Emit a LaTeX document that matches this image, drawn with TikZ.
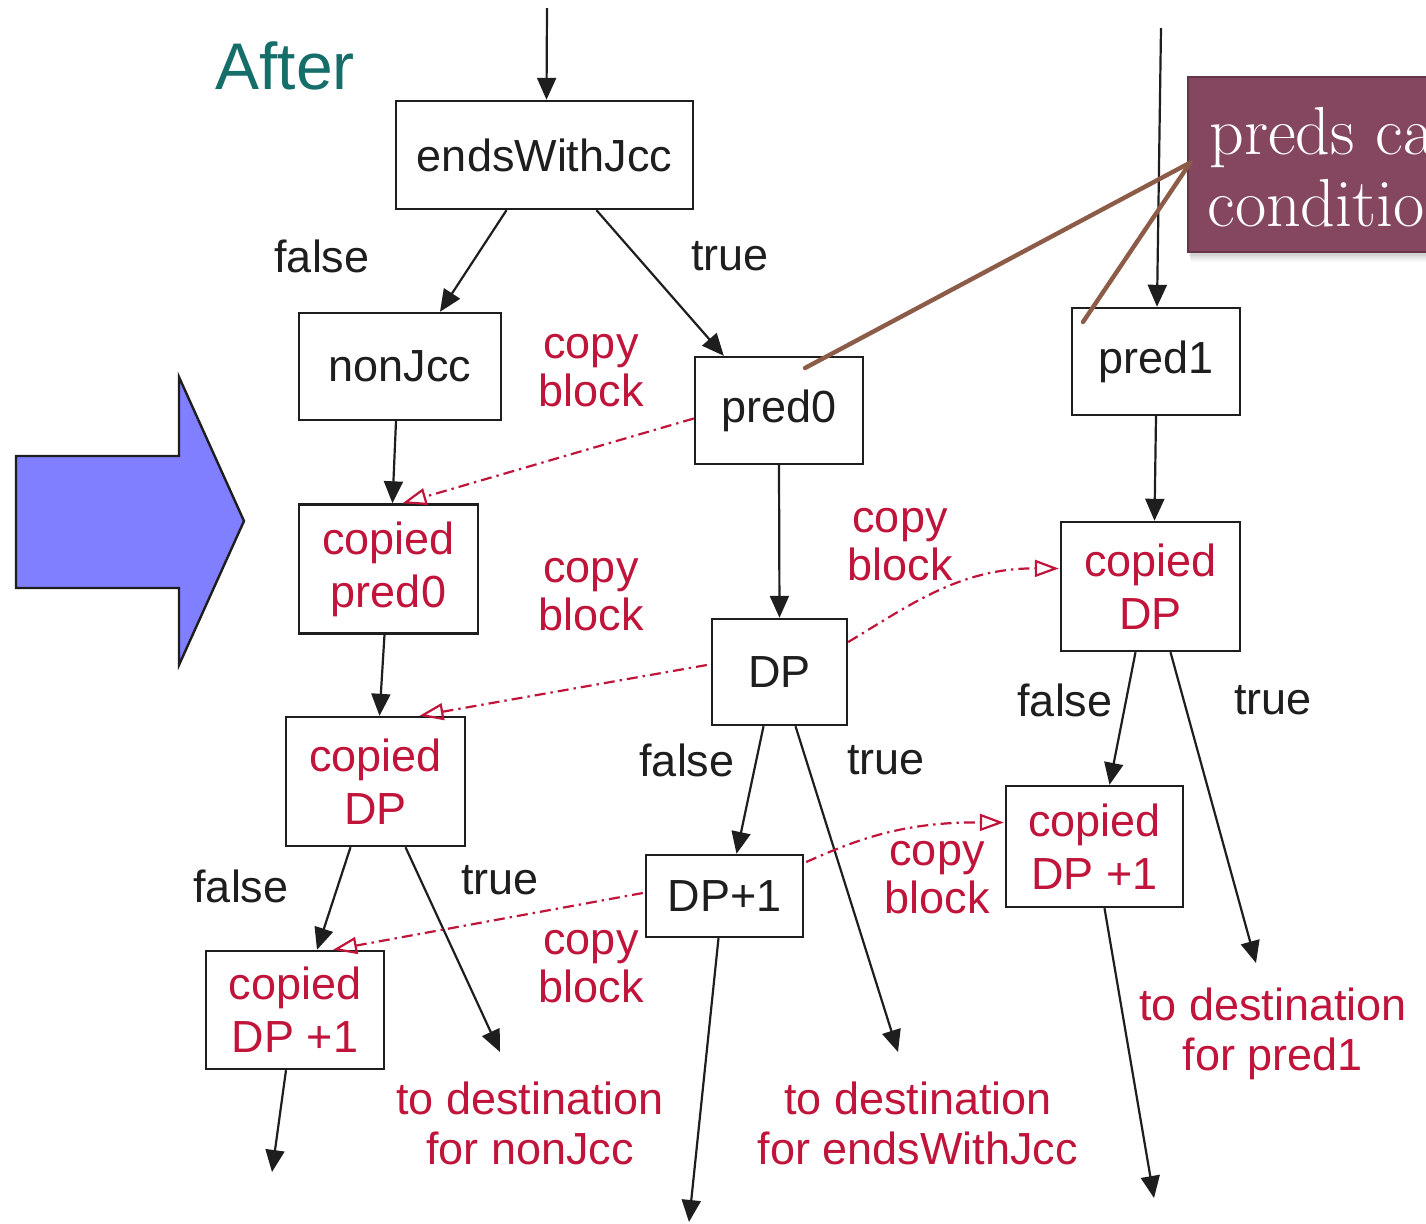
\documentclass[tikz,border=0pt]{standalone}
\usepackage{fontspec}
\newfontfamily\hv{Liberation Sans}
\usetikzlibrary{calc,arrows.meta}

\definecolor{cred}{RGB}{192,20,58}
\definecolor{cteal}{RGB}{22,110,106}
\definecolor{cblue}{RGB}{127,127,255}
\definecolor{cplum}{RGB}{132,71,95}
\definecolor{cbrown}{RGB}{140,92,72}
\definecolor{cink}{RGB}{30,30,30}

\tikzset{
  blk/.style={draw=cink,line width=1.2pt,inner sep=0pt,font=\hv\fontsize{22.5}{26.5}\selectfont,text=cink,align=center},
  cpy/.style={blk,text=cred},
  arr/.style={draw=cink,line width=1.1pt,-{Triangle[length=11pt,width=9.5pt]}},
  cparr/.style={draw=cred,line width=1.1pt,dash pattern=on 5.5pt off 2.5pt on 1.2pt off 2.5pt,
    -{Triangle[open,length=12pt,width=8.5pt,line width=1.1pt]}},
  lbl/.style={font=\hv\fontsize{22.5}{25}\selectfont,text=cink,inner sep=0pt},
  rlbl/.style={font=\hv\fontsize{22.5}{24}\selectfont,text=cred,inner sep=0pt,align=center},
  lead/.style={draw=cbrown,line width=2.2pt,line cap=round}
}

\begin{document}
\begin{tikzpicture}[x=0.5pt,y=-0.5pt]
\clip (0,0) rectangle (1426,1223);
\fill[white] (0,0) rectangle (1426,1223);

% title
\node[font=\hv\fontsize{33}{36}\selectfont,text=cteal,inner sep=0pt] (title) at (285,66) {After};

% big block arrow
\draw[fill=cblue,draw=cink,line width=1.2pt,line join=miter]
  (16,456) -- (179,456) -- (179,377) -- (244,521) -- (179,665) -- (179,588) -- (16,588) -- cycle;

% blocks
\node[blk,minimum width=148.5pt,minimum height=54pt] (ewj) at (544.5,155) {endsWithJcc};
\node[blk,minimum width=101pt,minimum height=53.5pt] (nonjcc) at (400,366.5) {nonJcc};
\node[blk,minimum width=84pt,minimum height=53.5pt] (pred0) at (779,410.5) {pred0};
\node[blk,minimum width=84pt,minimum height=53.5pt] (pred1) at (1156,361.5) {pred1};
\node[cpy,minimum width=89.5pt,minimum height=64.5pt] (cpred0) at (388.5,569) {copied\\pred0};
\node[blk,minimum width=67.5pt,minimum height=53pt] (dp) at (779.5,672) {DP};
\node[cpy,minimum width=89.5pt,minimum height=64.5pt] (cdpR) at (1150.5,586.5) {copied\\DP};
\node[cpy,minimum width=89.5pt,minimum height=64.5pt] (cdpL) at (375.5,781.5) {copied\\DP};
\node[blk,minimum width=78.5pt,minimum height=41pt] (dp1) at (724.5,896) {DP+1};
\node[cpy,minimum width=88.5pt,minimum height=60.5pt] (cdp1R) at (1094.5,846.5) {copied\\DP +1};
\node[cpy,minimum width=89pt,minimum height=59pt] (cdp1L) at (295,1010) {copied\\DP +1};

% free ends
\coordinate (inA) at (547,8);
\coordinate (inB) at (1161,28);
\coordinate (outL) at (500,1052);
\coordinate (outC) at (898,1052);
\coordinate (outR) at (1256,963);
\coordinate (downL) at (272,1172);
\coordinate (downC) at (689,1222);
\coordinate (downR) at (1154,1198);

% control-flow edges
\draw[arr] (inA) -- ($(ewj.north)+(2,0)$);
\draw[arr] (inB) -- ($(pred1.north)+(1,0)$);
\draw[arr] ($(ewj.south)+(-38,0)$) -- ($(nonjcc.north)+(40,0)$);
\draw[arr] ($(ewj.south)+(52,0)$) -- ($(pred0.north west)+(30,0)$);
\draw[arr] ($(nonjcc.south)+(-4,0)$) -- ($(cpred0.north)+(4,0)$);
\draw[arr] ($(cpred0.south)+(-4,0)$) -- ($(cdpL.north)+(4,0)$);
\draw[arr] (pred0.south) -- (dp.north);
\draw[arr] (pred1.south) -- ($(cdpR.north)+(4,0)$);
\draw[arr] ($(dp.south)+(-16,0)$) -- ($(dp1.north)+(12,0)$);
\draw[arr] ($(dp.south)+(16,0)$) -- (outC);
\draw[arr] ($(cdpL.south)+(-25,0)$) -- ($(cdp1L.north)+(22,0)$);
\draw[arr] ($(cdpL.south)+(30,0)$) -- (outL);
\draw[arr] ($(cdp1L.south)+(-9,0)$) -- (downL);
\draw[arr] ($(dp1.south)+(-6,0)$) -- (downC);
\draw[arr] ($(cdpR.south)+(-15,0)$) -- ($(cdp1R.north)+(15,0)$);
\draw[arr] ($(cdpR.south)+(20,0)$) -- (outR);
\draw[arr] ($(cdp1R.south)+(10,0)$) -- (downR);

% copy relations
\draw[cparr] ($(pred0.west)+(0,8)$) -- ($(cpred0.north)+(14,0)$);
\draw[cparr] ($(dp.west)+(-4,-7)$) -- ($(cdpL.north)+(44,0)$);
\draw[cparr] ($(dp.east)+(0,-30)$) .. controls (910,605) and (960,568) .. ($(cdpR.west)+(-1,-18)$);
\draw[cparr] ($(dp1.east)+(2,-34)$) .. controls (860,838) and (905,822) .. ($(cdp1R.west)+(-1,-24)$);
\draw[cparr] ($(dp1.west)+(-2,-3)$) -- ($(cdp1L.north)+(38,0)$);

% branch labels
\node[lbl] (f1) at (322,256) {false};
\node[lbl] (t1) at (730,256) {true};
\node[lbl] (f2) at (687,760) {false};
\node[lbl] (t2) at (886,760) {true};
\node[lbl] (f3) at (241,886) {false};
\node[lbl] (t3) at (500,880) {true};
\node[lbl] (f4) at (1065,700) {false};
\node[lbl] (t4) at (1273,700) {true};

% copy notes
\node[rlbl] (cb1) at (591,371) {copy\\block};
\node[rlbl] (cb2) at (591,595) {copy\\block};
\node[rlbl] (cb3) at (900,545) {copy\\block};
\node[rlbl] (cb4) at (937,878) {copy\\block};
\node[rlbl] (cb5) at (591,967) {copy\\block};

% destinations
\node[rlbl,font=\hv\fontsize{22.5}{25}\selectfont] (d1) at (530,1123) {to destination\\for nonJcc};
\node[rlbl,font=\hv\fontsize{22.5}{25}\selectfont] (d2) at (918,1123) {to destination\\for endsWithJcc};
\node[rlbl,font=\hv\fontsize{22.5}{25}\selectfont] (d3) at (1273,1034) {to destination\\for pred1};

% callout with a soft shadow
\foreach \o/\a in {10/0.03,8/0.04,6/0.05,4/0.06}{
  \fill[black,opacity=\a] (1188+\o*0.3,77+\o*0.5) rectangle (1440+\o,252+\o);
}
\node[fill=cplum,draw=cplum!75!black,line width=0.6pt,minimum width=130pt,minimum height=87.5pt,inner sep=0pt] (callout) at (1318,164.5) {};
\node[anchor=base west,inner sep=0pt,text=white,font=\fontsize{34}{40}\selectfont] (cl1) at (1209,154) {preds ca};
\node[anchor=base west,inner sep=0pt,text=white,font=\fontsize{34}{40}\selectfont] (cl2) at (1207,226) {conditio};
\coordinate (tip0) at (805,368);
\coordinate (tip1) at (1083,322);
\draw[lead] ($(callout.west)+(3,-2)$) -- (tip0);
\draw[lead] ($(callout.west)+(3,-2)$) -- (tip1);
\end{tikzpicture}
\end{document}
